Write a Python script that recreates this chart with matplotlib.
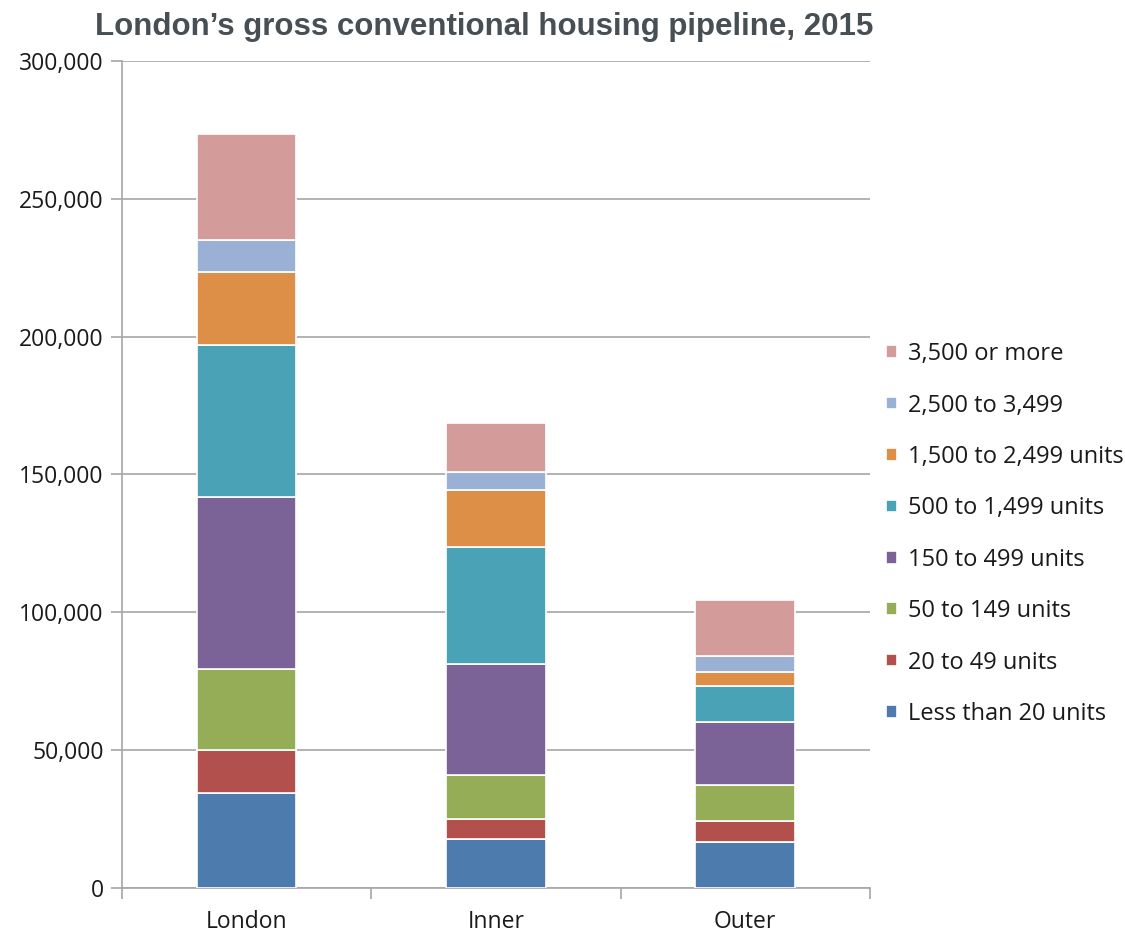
import numpy as np
import matplotlib.pyplot as plt
from matplotlib.ticker import FuncFormatter

areas = ["London", "Inner", "Outer"]
bands = ["Less than 20 units", "20 to 49 units", "50 to 149 units", "150 to 499 units",
         "500 to 1,499 units", "1,500 to 2,499 units", "2,500 to 3,499", "3,500 or more"]
colors = ["#4e7bad", "#b2504e", "#95ad56", "#7b6398", "#4aa2b7", "#dd8e47", "#9bb0d5", "#d49b9b"]

# units in each size band, per area
london = [34500, 15500, 29400, 62400, 55200, 26400, 11600, 38500]
inner = [17800, 7200, 16000, 40200, 42500, 20700, 6500, 17800]
outer = [16700, 7600, 13100, 22800, 13100, 5000, 5800, 20400]

data = np.array([london, inner, outer])

fig = plt.figure(figsize=(11.25, 9.32), dpi=100)
ax = fig.add_axes([0.1084, 0.0472, 0.6649, 0.8874])

x = np.arange(len(areas))
bottom = np.zeros(len(areas))
for i, band in enumerate(bands):
    ax.bar(x, data[:, i], 0.4, bottom=bottom, color=colors[i], label=band,
           edgecolor="white", linewidth=1.2, zorder=3)
    bottom += data[:, i]

ax.set_xlim(-0.5, 2.5)
ax.set_ylim(0, 300000)
ax.set_yticks(np.arange(0, 300001, 50000))
ax.yaxis.set_major_formatter(FuncFormatter(lambda v, p: f"{int(v):,}"))
ax.yaxis.grid(True, color="#a6a6a6", linewidth=1.2, zorder=0)

ax.set_xticks(x)
ax.set_xticklabels(areas)
ax.set_xticks([-0.5, 0.5, 1.5, 2.5], minor=True)
ax.tick_params(axis="x", which="major", length=0, pad=16)
ax.tick_params(axis="x", which="minor", length=8, color="#a6a6a6", width=1.2)
ax.tick_params(axis="y", length=8, color="#a6a6a6", width=1.2, pad=5)
for lab in ax.get_xticklabels() + ax.get_yticklabels():
    lab.set_fontfamily(["Open Sans", "DejaVu Sans"])
    lab.set_fontsize(16.5)
    lab.set_color("#1a1a1a")

for s in ["top", "right"]:
    ax.spines[s].set_visible(False)
ax.spines["left"].set_color("#a6a6a6")
ax.spines["bottom"].set_color("#a6a6a6")
ax.spines["left"].set_linewidth(1.2)
ax.spines["bottom"].set_linewidth(1.2)

h, l = ax.get_legend_handles_labels()
leg = ax.legend(h[::-1], l[::-1], loc="center left", bbox_to_anchor=(1.022, 0.428),
                frameon=False, prop={"family": ["Open Sans", "DejaVu Sans"], "size": 17},
                handlelength=0.45, handleheight=0.45, handletextpad=0.45, labelspacing=1.16,
                borderaxespad=0, borderpad=0)
for t in leg.get_texts():
    t.set_color("#1a1a1a")

fig.text(0.43, 0.971, "London\u2019s gross conventional housing pipeline, 2015",
         ha="center", va="center", fontsize=22.5, fontweight="bold", color="#474f55",
         family=["Liberation Sans", "DejaVu Sans"])

fig.savefig("out.png", dpi=100)
